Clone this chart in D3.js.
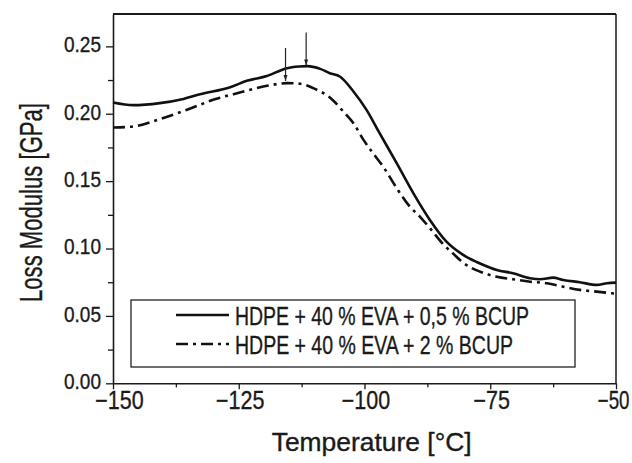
<!DOCTYPE html>
<html>
<head>
<meta charset="utf-8">
<script src="https://cdn.jsdelivr.net/npm/d3@7"></script>
<style>
  body { margin: 0; background: #fff; }
  text { font-family: "Liberation Sans Narrow", "Arial Narrow", "Liberation Sans", sans-serif; fill: #1a1a1a; stroke: #1a1a1a; stroke-width: 0.35px; }
</style>
</head>
<body>
<div id="chart"></div>
<script>
// HDPE + 40 % EVA + 0,5 % BCUP (solid)
const tempsA = [-150, -146, -140.7, -136, -132.7, -126.7, -123.4, -119.4, -115.4, -113, -111.4, -108.8, -106.9, -104.9,
  -102.2, -99.6, -97.0, -93.6, -90.3, -87.0, -83.7, -80.4, -77.7, -75, -73.7, -70.5, -67.1, -65.1, -62.5, -60.5, -57.2, -53.8, -51.8, -50];
const lossA = [0.2083, 0.2064, 0.2079, 0.2110, 0.2145, 0.2197, 0.2244, 0.2280, 0.2338, 0.2350, 0.2353, 0.2333, 0.2301, 0.2276,
  0.2165, 0.2029, 0.1856, 0.1633, 0.1411, 0.1212, 0.1051, 0.0953, 0.0900, 0.0858, 0.0841, 0.0817, 0.0780, 0.0772, 0.0784, 0.0767, 0.0750, 0.0730, 0.0742, 0.0747];

// HDPE + 40 % EVA + 2 % BCUP (dash-dot)
const tempsB = [-150, -146, -140.7, -135.3, -130.1, -124.8, -119.4, -115.4, -112.8, -110.2, -106.5, -104.2, -102.2, -100.2,
  -98.3, -96.3, -93.6, -91.0, -89.0, -87.0, -84.3, -82.3, -80.4, -77.0, -73.7, -70.5, -67.1, -63.7, -60.5, -57.2, -53.8, -50.8, -50];
const lossB = [0.1898, 0.1905, 0.1960, 0.2029, 0.2103, 0.2157, 0.2207, 0.2227, 0.2222, 0.2190, 0.2108, 0.2016, 0.1930, 0.1806,
  0.1707, 0.1608, 0.1448, 0.1311, 0.1237, 0.1151, 0.1030, 0.0960, 0.0895, 0.0828, 0.0791, 0.0772, 0.0754, 0.0742, 0.0717, 0.0693, 0.0680, 0.0668, 0.0665];

const seriesNames = ["HDPE + 40 % EVA + 0,5 % BCUP", "HDPE + 40 % EVA + 2 % BCUP"];

// peak markers (arrows)
const peakTemps = [-111.6, -115.7];
const peakLoss = [0.2350, 0.2236];

const xTicks = [-150, -125, -100, -75, -50];
const xMinor = [-137.5, -112.5, -87.5, -62.5];
const yTicks = [0.00, 0.05, 0.10, 0.15, 0.20, 0.25];
const yMinor = [0.025, 0.075, 0.125, 0.175, 0.225];

const W = 632, H = 463;
const margin = {top: 14, right: 16, bottom: 79.7, left: 113};
const width = W - margin.left - margin.right;
const height = H - margin.top - margin.bottom;

const svg = d3.select("#chart").append("svg")
    .attr("width", W)
    .attr("height", H);
const g = svg.append("g")
    .attr("transform", `translate(${margin.left},${margin.top})`);

const x = d3.scaleLinear().domain([-150, -50]).range([0, width]);
const y = d3.scaleLinear().domain([0, 0.274]).range([height, 0]);

// frame top and right
g.append("line").attr("x1", 0).attr("x2", width).attr("y1", 0).attr("y2", 0)
    .attr("stroke", "#1a1a1a").attr("stroke-width", 2);
g.append("line").attr("x1", width).attr("x2", width).attr("y1", 0).attr("y2", height)
    .attr("stroke", "#1a1a1a").attr("stroke-width", 1.5);

// minor ticks
g.append("g").attr("transform", `translate(0,${height})`)
    .call(d3.axisBottom(x).tickValues(xMinor).tickSize(4).tickFormat(""))
    .call(a => a.select(".domain").remove());
g.append("g")
    .call(d3.axisLeft(y).tickValues(yMinor).tickSize(5).tickFormat(""))
    .call(a => a.select(".domain").remove());

// X axis (labels squeezed horizontally like the condensed original)
const sx = 0.86;
const xAxis = g.append("g")
    .attr("transform", `translate(0,${height})`)
    .call(d3.axisBottom(x).tickValues(xTicks).tickSize(6).tickSizeOuter(0).tickFormat(d3.format("d")));
xAxis.selectAll("text")
    .attr("x", 1 / sx).attr("y", 26).attr("dy", 0)
    .attr("transform", `scale(${sx},1)`)
    .style("font-size", "25px");
// first label nudged clear of "0.00"
xAxis.selectAll("text").filter(d => d === -150)
    .attr("x", 6 / sx);
// last label sits on the page edge; keep it inside
xAxis.selectAll("text").filter(d => d === -50)
    .attr("text-anchor", "end")
    .attr("transform", "scale(0.75,1)")
    .attr("x", (W - margin.left - width - 3) / 0.75);

// Y axis
const yAxis = g.append("g")
    .call(d3.axisLeft(y).tickValues(yTicks).tickSize(7).tickSizeOuter(0).tickPadding(5).tickFormat(d3.format(".2f")));
yAxis.selectAll("text")
    .attr("dy", "0.24em")
    .style("font-size", "22px")
    .attr("textLength", 37).attr("lengthAdjust", "spacingAndGlyphs");

g.selectAll(".domain").attr("stroke", "#1a1a1a").attr("stroke-width", 1.6);
g.selectAll(".tick line").attr("stroke", "#1a1a1a").attr("stroke-width", 1.3);

// curves
const line = d3.line()
    .x(d => x(d[0]))
    .y(d => y(d[1]))
    .curve(d3.curveMonotoneX);

g.append("path")
    .datum(d3.zip(tempsA, lossA))
    .attr("fill", "none")
    .attr("stroke", "#111")
    .attr("stroke-width", 2.6)
    .attr("d", line);

g.append("path")
    .datum(d3.zip(tempsB, lossB))
    .attr("fill", "none")
    .attr("stroke", "#111")
    .attr("stroke-width", 2.6)
    .attr("stroke-dasharray", "12,5,3,5")
    .attr("d", line);

// peak arrows
peakTemps.forEach((t, i) => {
    const px = x(t), py = y(peakLoss[i]) - 1;
    g.append("line")
        .attr("x1", px).attr("x2", px)
        .attr("y1", py - 33).attr("y2", py)
        .attr("stroke", "#222").attr("stroke-width", 1.2);
    g.append("path")
        .attr("d", `M${px - 2},${py - 6}L${px},${py}L${px + 2},${py - 6}Z`)
        .attr("fill", "#222");
});

// legend
const lg = svg.append("g");
lg.append("rect")
    .attr("x", 131).attr("y", 300).attr("width", 444).attr("height", 67)
    .attr("fill", "#fff").attr("stroke", "#222").attr("stroke-width", 1.3);
const rowY = [315, 344];
const textLens = [294, 278];
seriesNames.forEach((name, i) => {
    lg.append("line")
        .attr("x1", 176).attr("x2", 229)
        .attr("y1", rowY[i]).attr("y2", rowY[i])
        .attr("stroke", "#111").attr("stroke-width", 2.6)
        .attr("stroke-dasharray", i === 1 ? "12,5,3,5" : null);
    lg.append("text")
        .attr("x", 235).attr("y", rowY[i] + 9.5)
        .style("font-size", "26px")
        .attr("textLength", textLens[i]).attr("lengthAdjust", "spacingAndGlyphs")
        .text(name);
});

// axis titles
svg.append("text")
    .attr("x", 371.7).attr("y", 451)
    .attr("text-anchor", "middle")
    .style("font-size", "25px")
    .attr("textLength", 200).attr("lengthAdjust", "spacingAndGlyphs")
    .text("Temperature [°C]");

svg.append("text")
    .attr("transform", "translate(42,202.5) rotate(-90)")
    .attr("text-anchor", "middle")
    .style("font-size", "32px")
    .attr("textLength", 199).attr("lengthAdjust", "spacingAndGlyphs")
    .text("Loss Modulus [GPa]");
</script>
</body>
</html>
